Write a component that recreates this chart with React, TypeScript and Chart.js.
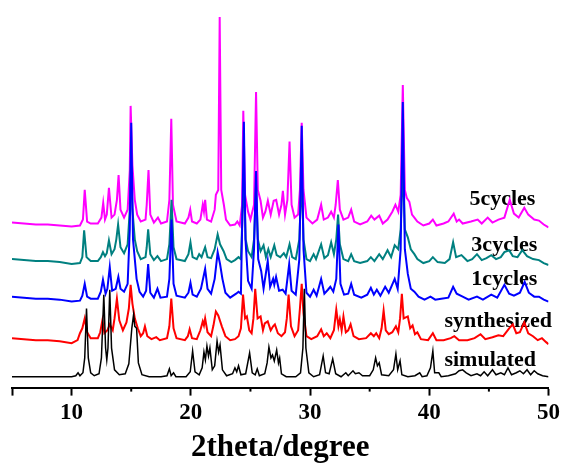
import React, { useEffect, useRef } from "react";
import { Chart, registerables } from "chart.js";

Chart.register(...registerables);

// x-axis (2theta, degree)
const xMin = 5;
const xMax = 50;
const xMajorTicks = [5, 10, 20, 30, 40, 50];
const xMinorTicks = [15, 25, 35, 45];
const xTitle = "2theta/degree";

const seriesNames = ["simulated", "synthesized", "1cycles", "3cycles", "5cycles"];
// label anchor [2theta, intensity] for each trace name
const labelAnchors = [
  [41.27, 22],
  [41.27, 61],
  [43.53, 104],
  [43.53, 138],
  [43.37, 185],
];

// traces: [2theta, intensity (offset included)]
const simulated = [
  [5, 11], [8, 11], [10, 11], [10.35, 12], [10.54, 15], [10.7, 12], [10.95, 15], [11.1, 30], [11.25, 80], [11.4, 30],
  [11.6, 15], [11.9, 12], [12.3, 14], [12.5, 30], [12.7, 94], [12.85, 40], [12.95, 28], [13.05, 40], [13.2, 99], [13.35, 40],
  [13.6, 18], [14.0, 13], [14.5, 14], [14.8, 24], [15.05, 60], [15.2, 74], [15.3, 62], [15.45, 60], [15.6, 25], [15.9, 13],
  [16.5, 11], [17.5, 11], [18.0, 12], [18.2, 19], [18.35, 12], [18.55, 15], [18.75, 11], [19.6, 11], [19.95, 16], [20.15, 37],
  [20.35, 16], [20.7, 13], [20.95, 20], [21.1, 36], [21.22, 28], [21.35, 42], [21.48, 32], [21.6, 40], [21.8, 18], [22.0, 22],
  [22.2, 47], [22.33, 36], [22.45, 43], [22.65, 18], [23.0, 12], [23.5, 14], [23.7, 20], [23.85, 16], [24.0, 22], [24.2, 13],
  [24.6, 14], [24.93, 35], [25.15, 15], [25.4, 13], [25.57, 19], [25.75, 12], [26.2, 14], [26.4, 25], [26.55, 41], [26.72, 30],
  [26.85, 33], [27.0, 27], [27.2, 38], [27.35, 25], [27.45, 30], [27.6, 14], [28.0, 11], [28.8, 11], [29.2, 15], [29.4, 40],
  [29.52, 100], [29.65, 40], [29.9, 15], [30.3, 11], [30.8, 13], [31.1, 32], [31.3, 15], [31.6, 14], [31.9, 29], [32.15, 14],
  [32.6, 11], [33.0, 15], [33.2, 12], [33.6, 17], [33.8, 14], [34.1, 15], [34.4, 12], [35.0, 12], [35.3, 18], [35.5, 30],
  [35.65, 22], [35.8, 25], [36.0, 13], [36.6, 12], [37.0, 18], [37.2, 34], [37.35, 18], [37.55, 27], [37.7, 13], [38.2, 11],
  [38.8, 12], [39.2, 15], [39.4, 11], [39.8, 12], [40.1, 20], [40.3, 37], [40.45, 15], [40.8, 15], [41.0, 11], [41.6, 12],
  [42.2, 14], [42.5, 17], [42.8, 18], [43.1, 15], [43.5, 12], [44.0, 14], [44.3, 12], [44.6, 16], [44.9, 12], [45.3, 18],
  [45.6, 13], [46.0, 15], [46.3, 13], [46.6, 20], [46.9, 13], [47.3, 15], [47.6, 17], [47.9, 14], [48.2, 18], [48.5, 13],
  [48.8, 17], [49.1, 14], [49.5, 12], [50, 11],
];

const synthesized = [
  [5, 50], [6, 49], [7, 48], [8, 48], [9, 47], [10, 45], [10.5, 48], [10.7, 55], [10.9, 60], [11.1, 70], [11.3, 56], [11.6, 50],
  [12.2, 50], [12.4, 56], [12.58, 68], [12.75, 55], [13.0, 58], [13.2, 64], [13.45, 58], [13.6, 70], [13.8, 90], [14.0, 68],
  [14.3, 58], [14.6, 66], [14.8, 80], [14.95, 104], [15.1, 85], [15.3, 70], [15.55, 60], [15.8, 52], [16.0, 55], [16.15, 62],
  [16.35, 52], [16.7, 49], [17.1, 51], [17.4, 48], [18.0, 50], [18.2, 62], [18.36, 90], [18.55, 60], [18.8, 50], [19.5, 48],
  [19.75, 52], [19.9, 59], [20.1, 50], [20.5, 49], [20.8, 58], [21.0, 67], [21.1, 63], [21.2, 70], [21.4, 56], [21.7, 52],
  [21.9, 63], [22.1, 77], [22.3, 73], [22.6, 62], [22.9, 52], [23.3, 48], [23.7, 49], [24.0, 52], [24.2, 60], [24.38, 94],
  [24.55, 70], [24.7, 72], [24.9, 58], [25.1, 55], [25.25, 70], [25.4, 100], [25.6, 70], [25.85, 72], [26.05, 58], [26.2, 65],
  [26.45, 67], [26.7, 58], [26.9, 62], [27.05, 64], [27.3, 55], [27.6, 52], [27.9, 56], [28.05, 70], [28.2, 94], [28.4, 62],
  [28.7, 52], [29.0, 58], [29.15, 80], [29.3, 105], [29.45, 75], [29.7, 52], [30.1, 49], [30.6, 52], [30.93, 59], [31.15, 52],
  [31.4, 55], [31.7, 50], [32.0, 58], [32.2, 79], [32.38, 62], [32.5, 69], [32.65, 58], [32.8, 72], [33.0, 56], [33.2, 58],
  [33.4, 64], [33.65, 52], [34.1, 49], [34.7, 50], [35.1, 55], [35.35, 52], [35.55, 55], [35.8, 50], [36.0, 60], [36.17, 78],
  [36.35, 58], [36.6, 54], [36.9, 56], [37.2, 62], [37.4, 56], [37.55, 70], [37.7, 95], [37.85, 70], [38.2, 72], [38.4, 60],
  [38.6, 63], [38.8, 54], [39.0, 56], [39.3, 49], [39.9, 48], [40.3, 55], [40.6, 48], [41.2, 48], [41.8, 50], [42.1, 52],
  [42.5, 48], [43.2, 48], [43.8, 50], [44.3, 54], [44.7, 49], [45.3, 51], [45.8, 53], [46.2, 52], [46.7, 60], [47.0, 64],
  [47.3, 55], [47.6, 56], [47.97, 66], [48.3, 55], [48.7, 52], [49.1, 48], [49.45, 50], [49.8, 46], [50, 44],
];

const cycles1 = [
  [5, 92], [6, 91], [7, 90], [8, 90], [9, 89], [10, 87], [10.7, 88], [10.9, 93], [11.1, 105], [11.3, 92], [11.6, 90],
  [12.2, 90], [12.45, 97], [12.63, 109], [12.85, 95], [13.0, 100], [13.2, 122], [13.4, 98], [13.7, 100], [13.92, 112],
  [14.1, 100], [14.4, 97], [14.7, 105], [14.88, 160], [15.0, 268], [15.15, 150], [15.45, 110], [15.7, 97], [16.0, 92],
  [16.25, 98], [16.42, 125], [16.6, 96], [16.9, 91], [17.2, 100], [17.45, 91], [18.0, 92], [18.2, 110], [18.38, 170],
  [18.55, 105], [18.8, 93], [19.5, 91], [19.8, 96], [19.97, 106], [20.15, 94], [20.5, 92], [20.85, 100], [21.2, 120],
  [21.4, 100], [21.7, 95], [22.0, 110], [22.25, 137], [22.45, 125], [22.65, 110], [22.9, 96], [23.3, 91], [23.8, 95],
  [24.0, 97], [24.2, 95], [24.33, 180], [24.45, 269], [24.58, 150], [24.8, 108], [25.1, 100], [25.3, 140], [25.47, 219],
  [25.65, 130], [25.9, 118], [26.1, 100], [26.45, 128], [26.65, 102], [26.9, 110], [27.0, 104], [27.15, 112], [27.4, 98],
  [27.7, 99], [27.95, 95], [28.25, 125], [28.45, 98], [28.8, 94], [29.1, 130], [29.3, 265], [29.45, 140], [29.7, 96],
  [30.0, 92], [30.3, 99], [30.55, 93], [30.93, 110], [31.2, 95], [31.5, 99], [31.7, 102], [31.95, 97], [32.2, 110],
  [32.38, 165], [32.55, 105], [32.85, 94], [33.2, 95], [33.45, 105], [33.7, 94], [34.3, 91], [34.8, 94], [35.1, 101],
  [35.35, 94], [35.6, 99], [35.9, 93], [36.3, 102], [36.6, 96], [37.1, 110], [37.35, 100], [37.6, 140], [37.78, 289],
  [37.95, 140], [38.2, 115], [38.45, 100], [38.75, 97], [39.1, 92], [39.6, 89], [40.1, 92], [40.5, 89], [41.0, 90],
  [41.6, 91], [42.0, 102], [42.3, 95], [42.8, 92], [43.3, 89], [44.0, 92], [44.5, 89], [45.2, 94], [45.7, 91], [46.3, 104],
  [46.7, 95], [47.1, 93], [47.6, 96], [48.0, 107], [48.35, 96], [48.8, 92], [49.2, 92], [49.6, 89], [50, 87],
];

const cycles3 = [
  [5, 130], [6, 129], [7, 128], [8, 128], [9, 127], [10, 125], [10.7, 126], [10.9, 132], [11.05, 159], [11.25, 132],
  [11.6, 128], [12.2, 128], [12.45, 132], [12.63, 137], [12.8, 133], [12.95, 136], [13.13, 149], [13.35, 135], [13.6, 140],
  [13.75, 150], [13.9, 165], [14.1, 142], [14.4, 136], [14.7, 145], [14.88, 180], [14.98, 230], [15.1, 180], [15.3, 150],
  [15.5, 138], [15.8, 130], [16.2, 132], [16.3, 142], [16.42, 160], [16.6, 135], [16.9, 129], [17.2, 133], [17.5, 128],
  [18.0, 130], [18.2, 145], [18.38, 190], [18.55, 142], [18.8, 130], [19.5, 128], [19.8, 135], [19.97, 147], [20.15, 132],
  [20.5, 130], [20.7, 135], [20.9, 132], [21.2, 142], [21.4, 132], [21.7, 131], [22.0, 140], [22.25, 155], [22.45, 145],
  [22.75, 138], [23.0, 130], [23.4, 127], [23.7, 129], [24.0, 132], [24.2, 130], [24.32, 170], [24.45, 215], [24.6, 150],
  [24.8, 138], [25.1, 132], [25.3, 150], [25.47, 205], [25.62, 150], [25.85, 138], [26.1, 144], [26.3, 132], [26.5, 140],
  [26.7, 132], [27.0, 144], [27.2, 134], [27.5, 132], [27.8, 136], [28.0, 132], [28.28, 145], [28.5, 132], [28.8, 130],
  [29.1, 150], [29.3, 215], [29.45, 150], [29.7, 130], [30.0, 128], [30.3, 135], [30.5, 130], [30.93, 145], [31.2, 131],
  [31.5, 134], [31.77, 147], [32.0, 135], [32.2, 150], [32.35, 175], [32.5, 145], [32.8, 130], [33.2, 128], [33.45, 135],
  [33.7, 128], [34.2, 126], [34.8, 128], [35.1, 132], [35.4, 128], [35.8, 135], [36.1, 130], [36.5, 139], [36.8, 132],
  [37.1, 144], [37.4, 140], [37.6, 160], [37.78, 225], [37.95, 160], [38.2, 152], [38.45, 140], [38.75, 135], [39.0, 130],
  [39.5, 126], [40.0, 128], [40.3, 132], [40.7, 127], [41.3, 126], [41.7, 130], [42.0, 147], [42.25, 132], [42.7, 134],
  [43.2, 128], [43.6, 130], [44.0, 135], [44.4, 129], [44.8, 131], [45.2, 134], [45.6, 130], [46.0, 132], [46.3, 137],
  [46.7, 139], [47.0, 133], [47.4, 132], [47.8, 139], [48.2, 133], [48.7, 130], [49.2, 129], [49.6, 126], [50, 124],
];

const cycles5 = [
  [5, 167], [6, 166], [7, 165], [8, 165], [9, 164], [10, 163], [10.7, 164], [10.95, 170], [11.1, 200], [11.3, 168],
  [11.6, 166], [12.2, 166], [12.5, 172], [12.65, 187], [12.8, 170], [12.95, 175], [13.13, 202], [13.35, 172], [13.6, 175],
  [13.8, 190], [13.94, 215], [14.1, 180], [14.4, 172], [14.7, 180], [14.88, 220], [14.95, 285], [15.1, 225], [15.3, 190],
  [15.5, 175], [15.8, 168], [16.2, 170], [16.3, 185], [16.45, 220], [16.6, 175], [16.9, 167], [17.24, 172], [17.5, 166],
  [18.0, 168], [18.2, 190], [18.36, 272], [18.5, 185], [18.8, 168], [19.5, 166], [19.8, 172], [19.95, 180], [20.1, 168],
  [20.5, 166], [20.8, 170], [21.0, 185], [21.1, 178], [21.2, 190], [21.35, 170], [21.7, 168], [22.0, 180], [22.1, 195],
  [22.3, 200], [22.42, 375], [22.55, 200], [22.77, 185], [22.95, 170], [23.3, 164], [23.7, 165], [23.9, 168], [24.1, 164],
  [24.3, 185], [24.4, 280], [24.55, 195], [24.8, 178], [25.0, 170], [25.3, 185], [25.47, 299], [25.62, 200], [25.85, 189],
  [26.05, 172], [26.25, 178], [26.46, 189], [26.7, 175], [26.95, 189], [27.16, 190], [27.4, 175], [27.6, 185], [27.72, 199],
  [27.9, 175], [28.1, 190], [28.28, 249], [28.45, 185], [28.7, 172], [29.0, 175], [29.15, 200], [29.3, 268], [29.45, 200],
  [29.7, 172], [30.2, 166], [30.6, 170], [30.93, 185], [31.15, 170], [31.5, 172], [31.77, 178], [32.0, 172], [32.15, 185],
  [32.33, 210], [32.5, 180], [32.8, 170], [33.2, 172], [33.45, 180], [33.7, 168], [34.2, 165], [34.8, 168], [35.13, 174],
  [35.4, 170], [35.8, 174], [36.1, 166], [36.5, 170], [36.9, 178], [37.16, 185], [37.4, 178], [37.6, 195], [37.78, 306],
  [37.95, 200], [38.11, 192], [38.33, 188], [38.55, 175], [38.75, 172], [39.0, 168], [39.5, 164], [40.0, 166], [40.3, 170],
  [40.6, 164], [41.2, 166], [41.6, 168], [42.05, 176], [42.3, 168], [42.5, 170], [42.8, 166], [43.5, 168], [44.06, 170],
  [44.4, 166], [44.9, 172], [45.3, 167], [45.8, 170], [46.3, 172], [46.75, 190], [47.1, 176], [47.5, 172], [47.97, 182],
  [48.3, 175], [48.8, 170], [49.2, 169], [49.6, 165], [50, 162],
];

const traces = [simulated, synthesized, cycles1, cycles3, cycles5];
const traceColors = ["#000000", "#ff0000", "#0000ff", "#008080", "#ff00ff"];
const traceWidths = [1.5, 2, 2, 2, 2];

const FONT = "'Liberation Serif', 'Times New Roman', serif";

const overlayPlugin = {
  id: "overlay",
  beforeDatasetsDraw(chart: any) {
    const { ctx } = chart;
    const x = chart.scales.x;
    const y = chart.scales.y;
    ctx.save();
    ctx.fillStyle = "#000";
    ctx.font = `bold 22px ${FONT}`;
    ctx.textAlign = "left";
    ctx.textBaseline = "alphabetic";
    seriesNames.forEach((name, i) => {
      const [lx, ly] = labelAnchors[i];
      ctx.fillText(name, x.getPixelForValue(lx), y.getPixelForValue(ly));
    });
    ctx.restore();
  },
  afterDraw(chart: any) {
    const { ctx, chartArea } = chart;
    const x = chart.scales.x;
    ctx.save();
    ctx.strokeStyle = "#000";
    ctx.lineWidth = 2;
    xMinorTicks.forEach((v) => {
      const px = x.getPixelForValue(v);
      ctx.beginPath();
      ctx.moveTo(px, chartArea.bottom);
      ctx.lineTo(px, chartArea.bottom + 4);
      ctx.stroke();
    });
    ctx.restore();
  },
};

export default function App() {
  const ref = useRef<HTMLCanvasElement | null>(null);

  useEffect(() => {
    if (!ref.current) return;
    const chart = new Chart(ref.current, {
      type: "line",
      data: {
        datasets: traces.map((t, i) => ({
          label: seriesNames[i],
          data: t.map(([a, b]) => ({ x: a, y: b })),
          borderColor: traceColors[i],
          backgroundColor: traceColors[i],
          borderWidth: traceWidths[i],
          pointRadius: 0,
          tension: 0,
          fill: false,
        })),
      },
      options: {
        animation: false,
        responsive: true,
        maintainAspectRatio: false,
        layout: { padding: { left: 12, right: 16, top: 12, bottom: 1 } },
        plugins: { legend: { display: false }, tooltip: { enabled: false } },
        scales: {
          x: {
            type: "linear",
            min: xMin,
            max: xMax,
            afterBuildTicks: (scale: any) => {
              scale.ticks = xMajorTicks.map((v) => ({ value: v }));
            },
            ticks: {
              color: "#000",
              padding: 5,
              maxRotation: 0,
              autoSkip: false,
              font: { family: FONT, size: 23, weight: "bold", lineHeight: 1.1 },
              callback: (v: any) => (v === xMin ? "" : String(v)),
            },
            grid: {
              display: true,
              drawOnChartArea: false,
              drawTicks: true,
              tickLength: 8,
              tickWidth: 2,
              color: "#000",
            },
            border: { display: true, color: "#000", width: 2 },
            title: {
              display: true,
              text: xTitle,
              color: "#000",
              padding: 0,
              font: { family: FONT, size: 31, weight: "bold", lineHeight: 1.1 },
            },
          },
          y: { type: "linear", min: 0, max: 380, display: false },
        },
      },
      plugins: [overlayPlugin],
    });
    return () => chart.destroy();
  }, []);

  return (
    <div style={{ position: "fixed", left: 0, top: 0, width: 565, height: 466, background: "#fff" }}>
      <canvas ref={ref} />
    </div>
  );
}
